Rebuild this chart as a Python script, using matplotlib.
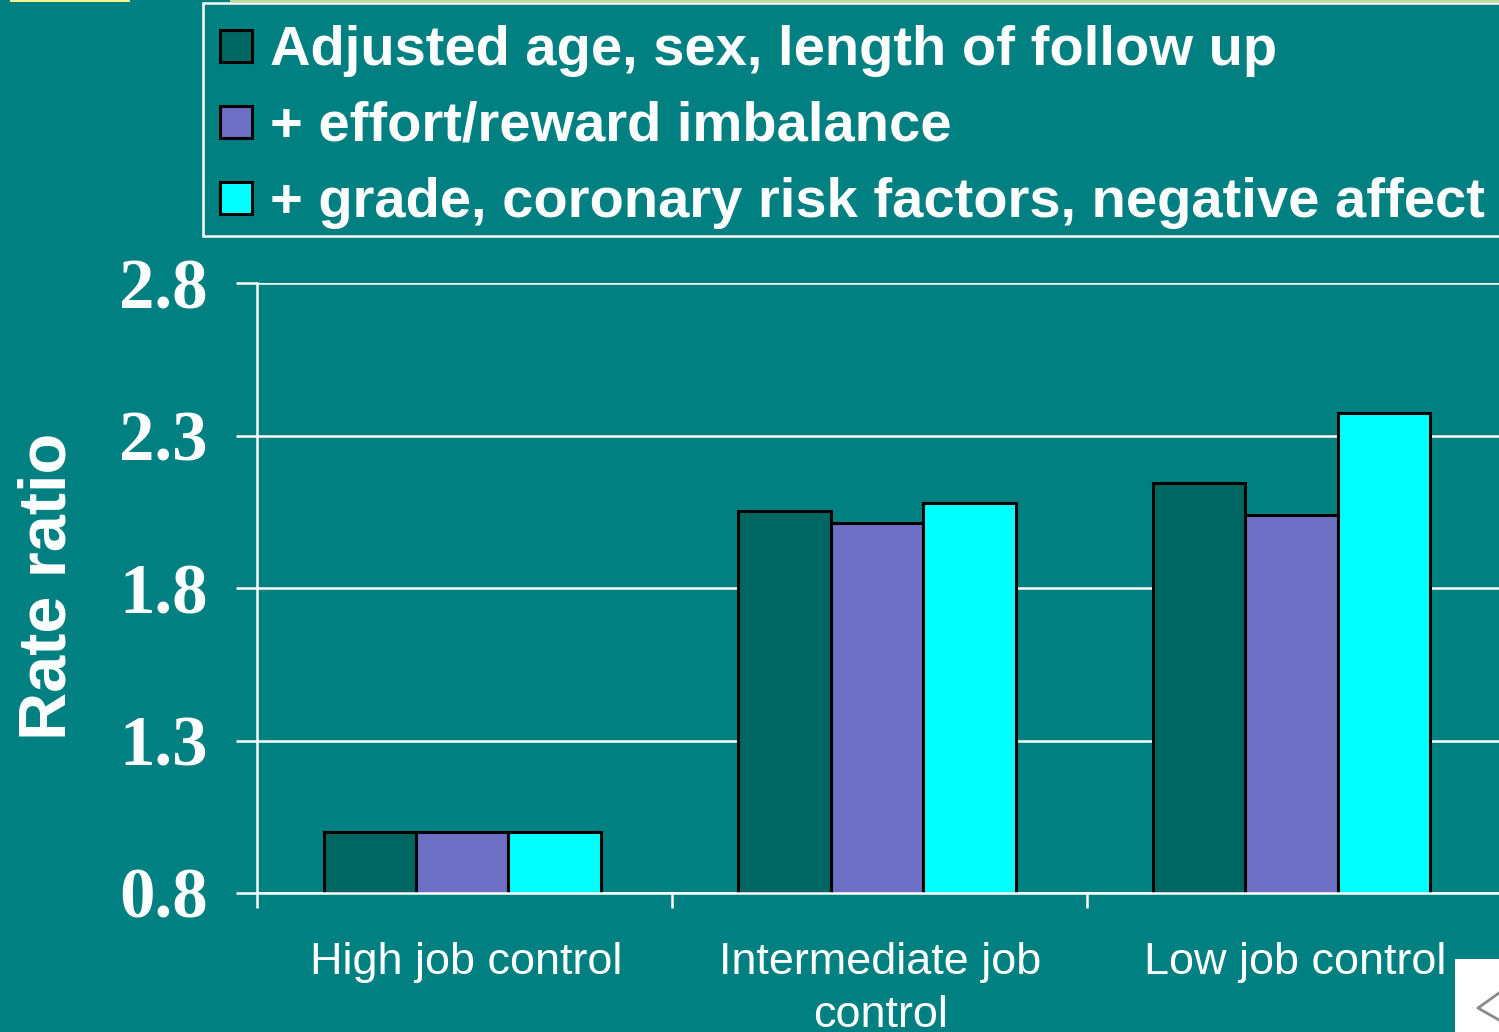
import matplotlib
matplotlib.use("Agg")
import matplotlib.pyplot as plt
from matplotlib.lines import Line2D
from matplotlib.patches import Rectangle

# values
categories = ["High job control", "Intermediate job\ncontrol", "Low job control"]
adjusted = [1.0, 2.053, 2.147]
effort = [1.0, 2.015, 2.04]
grade = [1.0, 2.08, 2.376]
y_ticks = [0.8, 1.3, 1.8, 2.3, 2.8]
x_edges = [-0.5, 0.5, 1.5]
labels = ["Adjusted age, sex, length of follow up",
          "+ effort/reward imbalance",
          "+ grade, coronary risk factors, negative affect"]

bg = "#008080"
colors = ["#006661", "#6d6fc5", "#00ffff"]
W, H = 1499, 1032

fig = plt.figure(figsize=(W / 100, H / 100), dpi=100, facecolor=bg)
# the plot runs off the right edge of the slide
ax = fig.add_axes([257.4 / W, 1 - 893 / H, 1244 / W, 609.5 / H], facecolor=bg)

x_pos = range(len(categories))
width = 0.223
for i, (vals, c) in enumerate(zip([adjusted, effort, grade], colors)):
    ax.bar([x - 0.006 + (i - 1) * width for x in x_pos], vals, width, bottom=0,
           color=c, edgecolor="black", linewidth=2.2, zorder=3)

ax.set_xlim(-0.5, 2.5)
ax.set_ylim(0.8, 2.8)
ax.set_yticks(y_ticks)
ax.set_yticklabels([f"{v:.1f}" for v in y_ticks], family="Liberation Serif",
                   fontweight="bold", fontsize=51, color="white")
ax.set_xticks(x_edges)
ax.set_xticklabels([])
ax.tick_params(axis="y", length=15, width=1.8, color="white", pad=20.5)
ax.tick_params(axis="x", length=11, width=1.8, color="white")
ax.grid(axis="y", color="white", linewidth=1.8, zorder=1)
ax.set_axisbelow(True)
for s in ["top", "right"]:
    ax.spines[s].set_visible(False)
for s in ["left", "bottom"]:
    ax.spines[s].set_color("white")
    ax.spines[s].set_linewidth(1.8)
    ax.spines[s].set_zorder(4)

for x, name in zip(x_pos, categories):
    ax.annotate(name, xy=(x, 0.8), xycoords="data", xytext=(0.8, -35),
                textcoords="offset points", ha="center", va="top",
                family="Liberation Sans", fontsize=32.4, color="white",
                linespacing=1.4, annotation_clip=False)

fig.text(49 / W, 1 - 586 / H, "Rate ratio", rotation=90, ha="center", va="center",
         family="Liberation Sans", fontweight="bold", fontsize=48, color="white")

# cut off bottom of the slide title along the top edge
fig.add_artist(Rectangle((230 / W, 1 - 2 / H), 1269 / W, 2 / H, transform=fig.transFigure,
                         facecolor="#c4d890", edgecolor="none"))
fig.add_artist(Rectangle((10 / W, 1 - 2 / H), 120 / W, 2 / H, transform=fig.transFigure,
                         facecolor="#f4f48c", edgecolor="none"))

# legend box, open past the right edge
fig.add_artist(Rectangle((203 / W, 1 - 236 / H), 1400 / W, 233 / H, transform=fig.transFigure,
                         facecolor=bg, edgecolor="white", linewidth=1.8))
for i, (name, c) in enumerate(zip(labels, colors)):
    yc = 46 + i * 76
    fig.add_artist(Rectangle((220 / W, 1 - (yc + 16) / H), 32 / W, 32 / H,
                             transform=fig.transFigure, facecolor=c,
                             edgecolor="black", linewidth=2.2))
    fig.text(270 / W, 1 - (yc - 1) / H, name, ha="left", va="center_baseline",
             family="Liberation Sans", fontweight="bold", fontsize=40.4, color="white")

# corner of the white picture at bottom right
fig.add_artist(Rectangle((1455 / W, 0), 44 / W, 73 / H, transform=fig.transFigure,
                         facecolor="white", edgecolor="none"))
fig.add_artist(Line2D([1499 / W, 1478 / W, 1499 / W], [1 - 993 / H, 1 - 1008 / H, 1 - 1020 / H],
                      transform=fig.transFigure, color="#8a8a8a", linewidth=2))

fig.savefig("out.png", dpi=100, facecolor=bg)
